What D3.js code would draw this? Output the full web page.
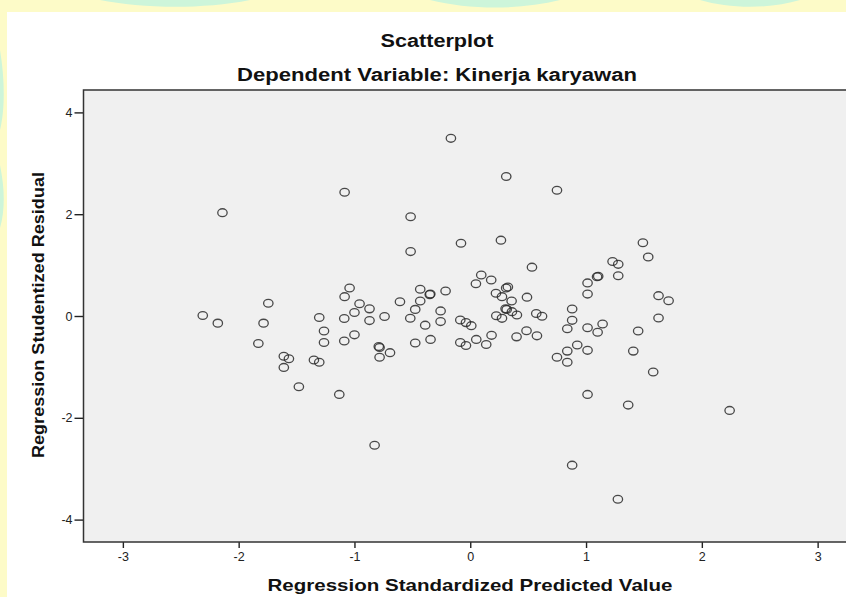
<!DOCTYPE html>
<html>
<head>
<meta charset="utf-8">
<script src="https://cdn.jsdelivr.net/npm/d3@7/dist/d3.min.js"></script>
<style>
  html, body { margin: 0; padding: 0; background: #fdfbc8; }
  svg { display: block; }
  text { font-family: "Liberation Sans", Arial, sans-serif; }
</style>
</head>
<body>
<svg id="chart" width="846" height="597"></svg>
<script>
// ---- data ----
const titleText = "Scatterplot";
const subtitleText = "Dependent Variable: Kinerja karyawan";
const xAxisLabel = "Regression Standardized Predicted Value";
const yAxisLabel = "Regression Studentized Residual";
const xTicks = [-3, -2, -1, 0, 1, 2, 3];
const yTicks = [-4, -2, 0, 2, 4];
const predicted = [
  -2.31, -2.18, -2.14, -1.83, -1.785, -1.744, -1.61, -1.566, -1.61, -1.48,
  -1.35, -1.304, -1.304, -1.263, -1.263, -1.131, -1.085, -1.042, -1.085, -0.956,
  -0.87, -1.0, -1.088, -0.87, -0.74, -1.088, -1.0, -0.783, -0.79, -0.693,
  -0.783, -0.826, -0.607, -0.515, -0.515, -0.432, -0.345, -0.35, -0.213, -0.432,
  -0.475, -0.518, -0.389, -0.256, -0.256, -0.475, -0.343, -0.167, -0.08, -0.086,
  -0.037, 0.009, -0.086, -0.037, 0.052, 0.138, 0.184, 0.095, 0.049, 0.181,
  0.222, 0.274, 0.31, 0.325, 0.357, 0.49, 0.305, 0.315, 0.36, 0.403,
  0.225, 0.274, 0.57, 0.62, 0.40, 0.486, 0.576, 0.533, 0.265, 0.311,
  0.749, 0.749, 0.838, 0.838, 0.924, 1.013, 0.88, 0.88, 0.838, 1.013,
  1.143, 1.10, 1.013, 1.013, 1.095, 1.105, 1.229, 1.278, 1.278, 1.491,
  1.537, 1.626, 1.713, 1.626, 1.45, 1.408, 1.58, 1.013, 1.364, 2.24,
  0.88, 1.275
];
const residual = [
  0.01, -0.14, 2.03, -0.54, -0.14, 0.25, -0.79, -0.84, -1.01, -1.39,
  -0.865, -0.91, -0.03, -0.295, -0.52, -1.54, 2.43, 0.55, 0.38, 0.24,
  0.14, 0.07, -0.05, -0.09, -0.01, -0.49, -0.37, -0.62, -0.60, -0.72,
  -0.81, -2.54, 0.28, 1.95, 1.265, 0.525, 0.43, 0.42, 0.49, 0.295,
  0.13, -0.045, -0.18, 0.10, -0.11, -0.53, -0.46, 3.49, 1.43, -0.08,
  -0.13, -0.19, -0.52, -0.58, -0.46, -0.56, -0.38, 0.806, 0.635, 0.708,
  0.446, 0.38, 0.55, 0.57, 0.295, 0.37, 0.14, 0.13, 0.085, 0.02,
  0.006, -0.046, 0.05, -0.006, -0.41, -0.29, -0.39, 0.96, 1.49, 2.74,
  2.47, -0.81, -0.91, -0.69, -0.57, -0.675, 0.138, -0.085, -0.25, -0.23,
  -0.157, -0.32, 0.65, 0.43, 0.77, 0.78, 1.07, 1.015, 0.79, 1.44,
  1.16, 0.40, 0.30, -0.04, -0.295, -0.69, -1.10, -1.54, -1.75, -1.855,
  -2.93, -3.60
];

// ---- layout ----
const svg = d3.select("#chart");
const W = 846, H = 597;
const plot = { left: 83.5, top: 90, right: 857, bottom: 542 };

// background outside the white panel
svg.append("rect").attr("x", 0).attr("y", 0).attr("width", W).attr("height", H).attr("fill", "#fdfbc8");
const green = "#cdf5da";
svg.append("path").attr("fill", green)
  .attr("d", "M100,0 C140,8 200,10 250,0 Z M430,0 C470,10 520,10 560,0 Z M700,0 C730,9 770,9 800,0 Z M0,50 C5,80 5,110 0,130 Z M0,165 C5,190 5,210 0,228 Z");
svg.append("rect").attr("x", 7).attr("y", 12).attr("width", W - 7).attr("height", H - 12).attr("fill", "#ffffff");

const x = d3.scaleLinear().domain([-3.34, 3.34]).range([plot.left, plot.right]);
const y = d3.scaleLinear().domain([-4.44, 4.44]).range([plot.bottom, plot.top]);

// plot background
svg.append("rect")
  .attr("x", plot.left).attr("y", plot.top)
  .attr("width", plot.right - plot.left).attr("height", plot.bottom - plot.top)
  .attr("fill", "#f0f0f0");

// axes
const fmt = d => String(d);
const gx = svg.append("g")
  .attr("transform", `translate(0,${plot.bottom})`)
  .call(d3.axisBottom(x).tickValues(xTicks).tickSize(6).tickPadding(4).tickFormat(fmt));
const gy = svg.append("g")
  .attr("transform", `translate(${plot.left},0)`)
  .call(d3.axisLeft(y).tickValues(yTicks).tickSize(9).tickPadding(2).tickFormat(fmt));
[gx, gy].forEach(g => {
  g.select(".domain").remove();
  g.selectAll(".tick line").attr("stroke", "#222").attr("stroke-width", 1.4);
  g.selectAll(".tick text").attr("fill", "#222").attr("font-size", 12.5)
    .attr("font-family", "'Liberation Sans', Arial, sans-serif");
});

// points
svg.append("g").selectAll("ellipse")
  .data(predicted.map((p, i) => [p, residual[i]]))
  .join("ellipse")
  .attr("cx", d => x(d[0]))
  .attr("cy", d => y(d[1]))
  .attr("rx", 4.7).attr("ry", 3.9)
  .attr("fill", "none")
  .attr("stroke", "#2a2a2a")
  .attr("stroke-opacity", 0.85)
  .attr("stroke-width", 1.3);

// frame
svg.append("rect")
  .attr("x", plot.left).attr("y", plot.top)
  .attr("width", plot.right - plot.left).attr("height", plot.bottom - plot.top)
  .attr("fill", "none").attr("stroke", "#333").attr("stroke-width", 1.5);

// titles
function label(txt, cx, cy, len, size, rotate) {
  const t = svg.append("text")
    .attr("text-anchor", "middle")
    .attr("font-weight", "bold")
    .attr("font-size", size)
    .attr("fill", "#111")
    .attr("textLength", len)
    .attr("lengthAdjust", "spacingAndGlyphs")
    .text(txt);
  if (rotate) t.attr("transform", `translate(${cx},${cy}) rotate(-90)`);
  else t.attr("x", cx).attr("y", cy);
  return t;
}
label(titleText, 437, 47, 113, 18);
label(subtitleText, 437, 81, 400, 18);
label(xAxisLabel, 470, 591, 405, 16.5);
label(yAxisLabel, 44, 315, 286, 17, true);
</script>
</body>
</html>
